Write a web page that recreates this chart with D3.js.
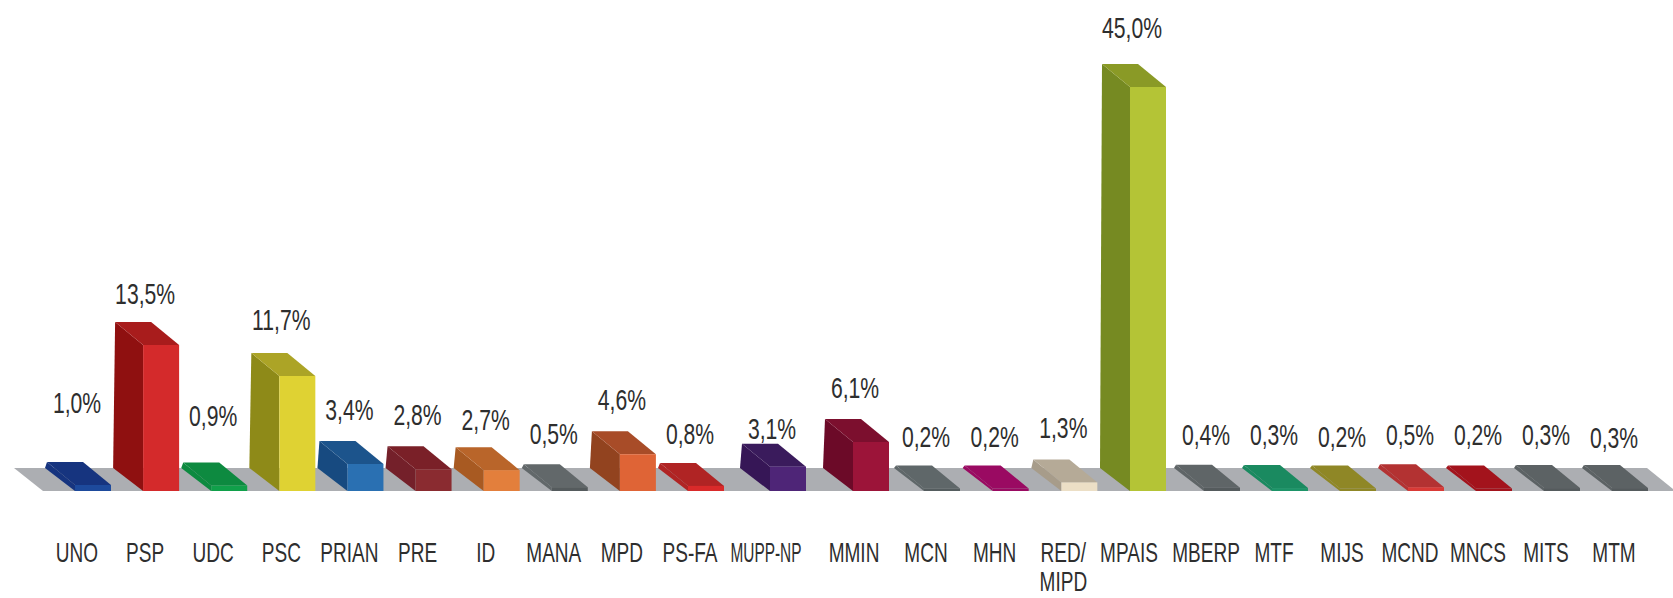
<!DOCTYPE html>
<html><head><meta charset="utf-8">
<script src="https://cdn.jsdelivr.net/npm/d3@7"></script>
<style>html,body{margin:0;padding:0;background:#fff}svg{display:block}
text{font-family:"Liberation Sans",sans-serif;fill:#2e2e2e}</style>
</head><body><svg id="c" width="1673" height="598"></svg>
<script>
const parties=["UNO","PSP","UDC","PSC","PRIAN","PRE","ID","MANA","MPD","PS-FA","MUPP-NP","MMIN","MCN","MHN","RED/|MIPD","MPAIS","MBERP","MTF","MIJS","MCND","MNCS","MITS","MTM"];
const shares=[1.0,13.5,0.9,11.7,3.4,2.8,2.7,0.5,4.6,0.8,3.1,6.1,0.2,0.2,1.3,45.0,0.4,0.3,0.2,0.5,0.2,0.3,0.3];
const frontColors=["#1d4a9c","#d42a2b","#10a04a","#dfd233","#2a70b2","#8a2b30","#e37f3c","#555b5d","#df6436","#d92a2a","#4e2577","#9c1439","#555d5f","#9a0a62","#ecdfc6","#b4c436","#555b5d","#1d9468","#8f8726","#d93a36","#a3131c","#555b5d","#555b5d"];
const topColors=["#16347f","#a81c1c","#0d8a40","#aca426","#1c548c","#7a2028","#b9652a","#62686a","#a84c28","#b02424","#3a1b5c","#7c0f2e","#5f6769","#9a0a62","#b5aa97","#8a9a26","#5f6567","#1a8a60","#8f8726","#b33232","#a3131c","#5c6264","#5c6264"];
const sideColors=["#16347f","#8f1010","#0d8a40","#8e8a18","#174a80","#74202a","#a85a22","#62686a","#92431f","#b02424","#361656","#6c0a28","#5f6769","#9a0a62","#a79c8a","#768a22","#5f6567","#1a8a60","#8f8726","#b33232","#a3131c","#5c6264","#5c6264"];

// layout
const W=1673,H=598,base=491,depthX=28,depthY=23,barW=36;
const x=d3.scaleLinear().domain([0,9,10,11,12,15,16,22]).range([75,688,770,853,924,1130,1204,1612]);
const h=d3.scaleLinear().domain([0,0.2,1,3.4,6.1,11.7,13.5,45]).range([0,2.5,6,27,49,115,146,404]);
const labelRise={UNO:49,PSP:18,UDC:36,PSC:23,PRIAN:21,PRE:21,ID:17,MANA:20,MPD:21,"PS-FA":19,"MUPP-NP":4.5,MMIN:21,MCN:18.5,MHN:18.5,"RED/|MIPD":21,MPAIS:26.5,MBERP:20,MTF:20,MIJS:19,MCND:19,MNCS:21,MITS:20,MTM:17};
const catNudge={"MUPP-NP":-6,MPAIS:-3,MMIN:-1};
const catSqueeze={"MUPP-NP":0.55};

const svg=d3.select("#c");
const poly=d3.line();
// floor
svg.append("path").attr("fill","#acaeb2").attr("d",poly([[14,base-depthY],[1647,base-depthY],[1673,base-2],[1673,base],[43,base]])+"Z");

const rows=parties.map((p,i)=>({p,v:shares[i],i}));
const g=svg.selectAll("g.bar").data(rows).join("g").attr("class","bar");
g.append("path").attr("fill",d=>sideColors[d.i]).attr("d",d=>{const l=x(d.i),t=base-h(d.v);
  return poly([[l,base],[l,t],[l-depthX,t-depthY],[l-depthX-2,base-depthY]])+"Z";});
g.append("path").attr("fill",d=>topColors[d.i]).attr("d",d=>{const l=x(d.i),t=base-h(d.v);
  return poly([[l,t],[l-depthX,t-depthY],[l-depthX+barW,t-depthY],[l+barW,t]])+"Z";});
g.append("rect").attr("fill",d=>frontColors[d.i]).attr("x",d=>x(d.i)).attr("width",barW)
  .attr("y",d=>base-h(d.v)).attr("height",d=>h(d.v));

const fmt=v=>v.toFixed(1).replace(".",",")+"%";
svg.selectAll("text.val").data(rows).join("text").attr("class","val")
  .attr("text-anchor","middle").attr("font-size",29)
  .attr("transform",d=>`translate(${x(d.i)+2},${base-h(d.v)-depthY-labelRise[d.p]}) scale(0.73,1)`)
  .text(d=>fmt(d.v));
const cat=svg.selectAll("text.cat").data(rows).join("text").attr("class","cat")
  .attr("text-anchor","middle").attr("font-size",28)
  .attr("transform",d=>`translate(${x(d.i)+2+(catNudge[d.p]||0)},562) scale(${catSqueeze[d.p]||0.68},1)`);
cat.selectAll("tspan").data(d=>d.p.split("|")).join("tspan")
  .attr("x",0).attr("dy",(d,i)=>i?29:0).text(d=>d);
</script></body></html>
